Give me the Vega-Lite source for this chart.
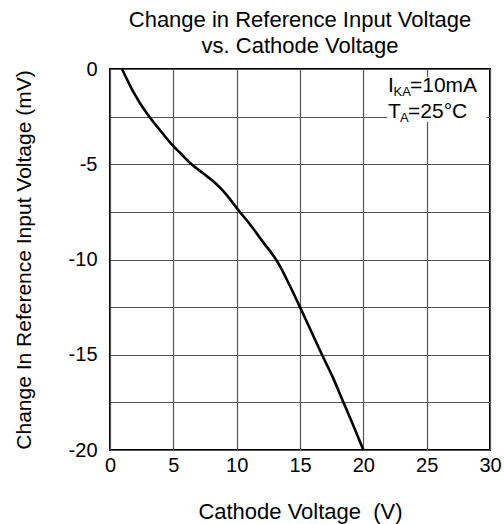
{
  "$schema": "https://vega.github.io/schema/vega-lite/v6.json",
  "width": 380,
  "height": 381,
  "autosize": {"type": "none"},
  "padding": {"left": 110, "top": 69, "right": 14, "bottom": 74},
  "background": "white",
  "title": {
    "text": ["Change in Reference Input Voltage", "vs. Cathode Voltage"],
    "fontSize": 22,
    "font": "Liberation Sans",
    "fontWeight": "normal",
    "color": "black",
    "anchor": "middle",
    "offset": 1,
    "lineHeight": 26
  },
  "config": {
    "view": {"stroke": "black", "strokeWidth": 2},
    "axis": {
      "labelFont": "Liberation Sans",
      "titleFont": "Liberation Sans",
      "labelColor": "black",
      "titleColor": "black",
      "labelFontSize": 20,
      "titleFontSize": 22,
      "titleFontWeight": "normal",
      "ticks": false,
      "domain": false,
      "grid": true,
      "gridColor": "#555555",
      "gridWidth": 1.2,
      "gridOpacity": 1
    }
  },
  "encoding": {
    "x": {
      "field": "x",
      "type": "quantitative",
      "scale": {"domain": [0, 30], "nice": false, "zero": false},
      "axis": {
        "title": "Cathode Voltage \u00a0(V)",
        "values": [0, 5, 10, 15, 20, 25, 30],
        "labelPadding": 5,
        "titlePadding": 26,
        "labelFlush": false
      }
    },
    "y": {
      "field": "y",
      "type": "quantitative",
      "scale": {"domain": [-20, 0], "nice": false, "zero": false},
      "axis": {
        "title": "Change In Reference Input Voltage (mV)",
        "titleFontSize": 21,
        "values": [0, -2.5, -5, -7.5, -10, -12.5, -15, -17.5, -20],
        "labelExpr": "datum.value % 5 == 0 ? '' + datum.value : ''",
        "labelPadding": 13,
        "titlePadding": 34,
        "labelFlush": false
      }
    }
  },
  "layer": [
    {
      "data": {"values": [
        {"x": 0.95, "y": 0},
        {"x": 1.84, "y": -1.2},
        {"x": 3.0, "y": -2.42},
        {"x": 4.0, "y": -3.25},
        {"x": 4.8, "y": -3.9},
        {"x": 5.6, "y": -4.45},
        {"x": 6.35, "y": -4.95},
        {"x": 7.4, "y": -5.5},
        {"x": 8.2, "y": -5.92},
        {"x": 9.0, "y": -6.45},
        {"x": 10.15, "y": -7.42},
        {"x": 11.1, "y": -8.2},
        {"x": 12.1, "y": -9.1},
        {"x": 13.05, "y": -9.95},
        {"x": 13.5, "y": -10.45},
        {"x": 14.2, "y": -11.38},
        {"x": 15.0, "y": -12.5},
        {"x": 15.8, "y": -13.65},
        {"x": 16.7, "y": -14.95},
        {"x": 17.6, "y": -16.2},
        {"x": 18.4, "y": -17.45},
        {"x": 19.2, "y": -18.7},
        {"x": 20.0, "y": -20}
      ]},
      "mark": {"type": "line", "color": "black", "strokeWidth": 2.6, "interpolate": "monotone"}
    },
    {
      "data": {"values": [{"x": 21.87, "x2": 29.74, "y": -0.42, "y2": -2.78}]},
      "mark": {"type": "rect", "fill": "white", "stroke": null},
      "encoding": {
        "x2": {"field": "x2"},
        "y2": {"field": "y2"}
      }
    },
    {
      "data": {"values": [
        {"x": 21.95, "y": -1.21, "t": "I"},
        {"x": 23.68, "y": -1.21, "t": "=10mA"},
        {"x": 21.95, "y": -2.57, "t": "T"},
        {"x": 23.53, "y": -2.57, "t": "=25°C"}
      ]},
      "mark": {"type": "text", "align": "left", "baseline": "alphabetic", "font": "Liberation Sans", "fontSize": 21, "color": "black"},
      "encoding": {"text": {"field": "t"}}
    },
    {
      "data": {"values": [
        {"x": 22.38, "y": -1.21, "t": "KA"},
        {"x": 22.89, "y": -2.57, "t": "A"}
      ]},
      "mark": {"type": "text", "align": "left", "baseline": "alphabetic", "font": "Liberation Sans", "fontSize": 13, "dy": 4, "color": "black"},
      "encoding": {"text": {"field": "t"}}
    }
  ]
}
